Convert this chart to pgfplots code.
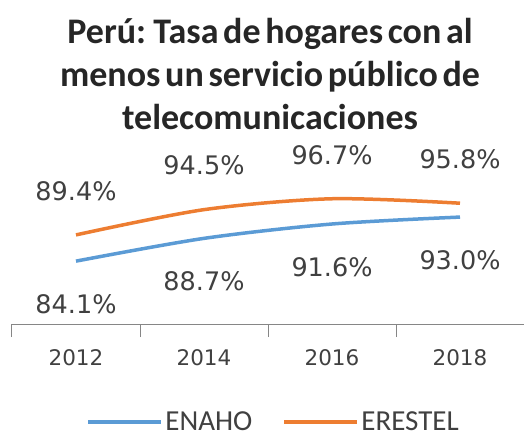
\documentclass[border=0pt]{standalone}
\usepackage{fontspec}
\setmainfont{Carlito}
\newfontfamily\dejavu{DejaVu Sans}
\usepackage{pgfplots}
\pgfplotsset{compat=1.18}
\definecolor{enaho}{HTML}{5B9BD5}
\definecolor{erestel}{HTML}{ED7D31}
\definecolor{txt}{HTML}{404040}
\definecolor{axisgray}{HTML}{868686}
\newcommand\titlefont{\bfseries\fontsize{36}{43}\selectfont\spaceskip=0.13em\relax}

\begin{document}
\begin{tikzpicture}[x=1pt,y=1pt]
\useasboundingbox (0,0) rectangle (524,442);
\begin{axis}[
  at={(12pt,118pt)}, anchor=south west,
  scale only axis, width=512pt, height=184pt,
  xmin=-0.5, xmax=3.5, ymin=71.4, ymax=108.57,
  clip=false,
  axis y line=none,
  axis x line*=bottom,
  axis line style={axisgray, line width=1pt, -},
  xtick={0,1,2,3},
  xticklabels={2012,2014,2016,2018},
  major tick length=0pt,
  minor xtick={-0.5,0.5,1.5,2.5,3.5},
  minor tick length=13pt,
  tick align=outside,
  minor tick style={axisgray, line width=1pt},
  xticklabel style={font=\dejavu\fontsize{21.5}{24}\selectfont, text=txt, anchor=base, yshift=-41pt},
  title={Perú: Tasa de hogares con al\\menos un servicio público de\\telecomunicaciones},
  title style={font=\titlefont, align=center, text=black!85, anchor=center, at={(0.5,1)}, yshift=60pt, xshift=2pt},
  legend style={draw=none, fill=none, at={(0.511,-0.533)}, anchor=center,
    font=\fontsize{29}{32}\selectfont, text=txt,
    /tikz/every even column/.append style={column sep=28pt}},
  legend columns=2,
  legend image code/.code={\draw[#1] (0pt,0pt) -- (73pt,0pt);},
]
\addlegendimage{enaho, line width=4pt}
\addlegendentry{ENAHO}
\addlegendimage{erestel, line width=4pt}
\addlegendentry{ERESTEL}

\addplot[forget plot, enaho, line width=3.5pt, smooth,
  nodes near coords={\pgfmathprintnumber[fixed,precision=1,fixed zerofill,assume math mode=true]{\pgfplotspointmeta}\%},
  every node near coord/.append style={font=\dejavu\fontsize{25.5}{28}\selectfont, text=txt, anchor=center, yshift=-43pt}]
  coordinates {(0,84.1) (1,88.7) (2,91.6) (3,93.0)};
\addplot[forget plot, erestel, line width=3.5pt, smooth,
  nodes near coords={\pgfmathprintnumber[fixed,precision=1,fixed zerofill,assume math mode=true]{\pgfplotspointmeta}\%},
  every node near coord/.append style={font=\dejavu\fontsize{25.5}{28}\selectfont, text=txt, anchor=center, yshift=44pt}]
  coordinates {(0,89.4) (1,94.5) (2,96.7) (3,95.8)};
\end{axis}
\end{tikzpicture}
\end{document}
